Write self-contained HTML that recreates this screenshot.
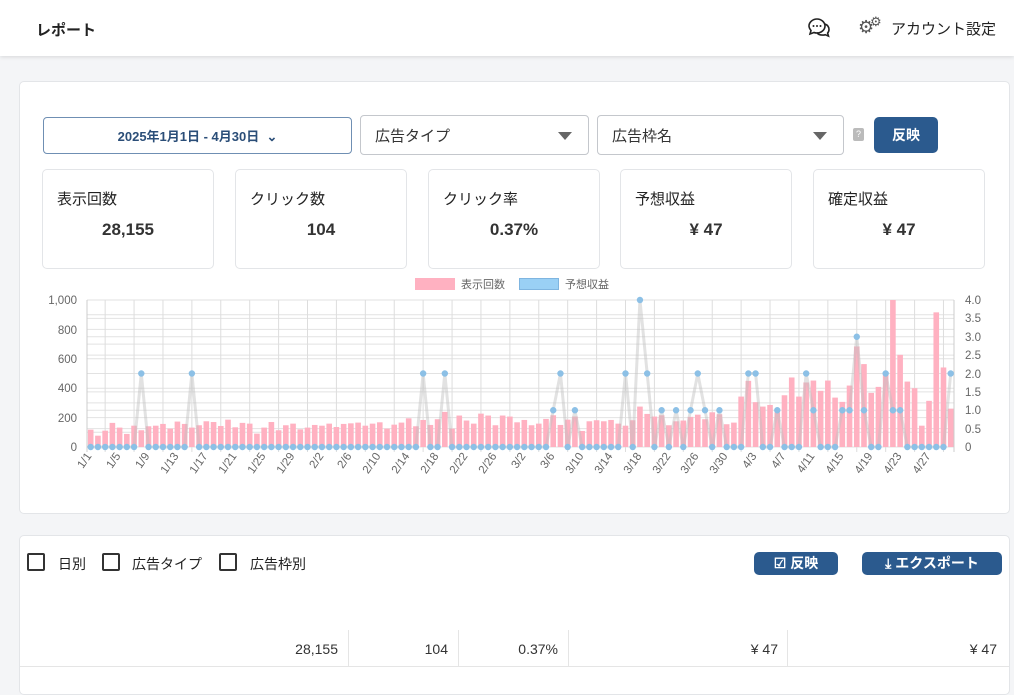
<!DOCTYPE html>
<html><head><meta charset="utf-8"><style>
*{box-sizing:border-box;margin:0;padding:0}
body{width:1014px;height:680px;overflow:hidden;background:#f4f5f7;font-family:"Liberation Sans","Noto Sans CJK JP",sans-serif;color:#222;position:relative}
.hdr{position:absolute;left:0;top:0;width:1014px;height:56px;background:#fff;box-shadow:0 1px 4px rgba(0,0,0,.12)}
.abs{position:absolute}
.card{position:absolute;background:#fff;border:1px solid #e3e5e8;border-radius:5px}
.kpi{position:absolute;top:169px;width:172px;height:100px;background:#fff;border:1px solid #e3e5e8;border-radius:5px}
.kpi .t{position:absolute;left:14px;top:18px;font-size:15px;color:#222}
.kpi .v{position:absolute;left:0;right:0;top:49px;text-align:center;font-size:17px;font-weight:bold;color:#333;line-height:22px}
.sel{position:absolute;top:115px;height:40px;border:1px solid #c4c7cc;border-radius:4px;font-size:15px;padding:9px 14px;color:#333}
.sel .ar{position:absolute;right:16px;top:16px;width:0;height:0;border-left:7px solid transparent;border-right:7px solid transparent;border-top:8px solid #666}
.btn{position:absolute;background:#2b5a8e;color:#fff;font-weight:bold;border-radius:5px;text-align:center}
.cb{position:absolute;top:553px;width:18px;height:18px;border:2px solid #333;border-radius:2px}
.cl{position:absolute;top:554px;font-size:14px;color:#222}
.td{position:absolute;top:641px;font-size:14px;color:#333;text-align:right}
</style></head><body>
<div class="hdr">
<div class="abs" style="left:36px;top:19px;font-size:15px;font-weight:bold">レポート</div>
<svg class="abs" style="left:806px;top:16px" width="26" height="24" viewBox="0 0 26 24"><path d="M3 10c0-4 4-7 8-7s8 3 8 7-4 7-8 7c-1 0-2 0-3-.5L4 18l1-3.5C3.8 13 3 11.6 3 10z" fill="none" stroke="#222" stroke-width="1.6"/><path d="M19 8c2.5 1 4 3 4 5.5 0 1.4-.5 2.6-1.4 3.6l.9 3-3.3-1.4c-.8.3-1.8.4-2.7.4-2.5 0-4.6-1-5.8-2.6" fill="none" stroke="#222" stroke-width="1.6"/><circle cx="7.5" cy="10" r="1" fill="#222"/><circle cx="11" cy="10" r="1" fill="#222"/><circle cx="14.5" cy="10" r="1" fill="#222"/></svg>
<div class="abs" style="left:858px;top:17px;font-size:18px;color:#555">⚙</div>
<div class="abs" style="left:870px;top:14px;font-size:13px;color:#555">⚙</div>
<div class="abs" style="left:891px;top:18px;font-size:15px">アカウント設定</div>
</div>

<div class="card" style="left:19px;top:81px;width:991px;height:433px"></div>
<div class="abs" style="left:43px;top:117px;width:309px;height:37px;border:1px solid #6f8fb3;border-radius:4px;text-align:center;font-size:13px;font-weight:bold;color:#2b4e78;padding-top:8px">2025年1月1日 - 4月30日 &nbsp;⌄</div>
<div class="sel" style="left:360px;width:229px">広告タイプ<div class="ar"></div></div>
<div class="sel" style="left:597px;width:247px">広告枠名<div class="ar"></div></div>
<div class="abs" style="left:853px;top:128px;width:11px;height:13px;background:#bbb;border-radius:2px;color:#fff;font-size:9px;text-align:center;line-height:13px">?</div>
<div class="btn" style="left:874px;top:117px;width:64px;height:36px;font-size:14px;line-height:36px">反映</div>

<div class="kpi" style="left:42px"><div class="t">表示回数</div><div class="v">28,155</div></div>
<div class="kpi" style="left:235px"><div class="t">クリック数</div><div class="v">104</div></div>
<div class="kpi" style="left:428px"><div class="t">クリック率</div><div class="v">0.37%</div></div>
<div class="kpi" style="left:620px"><div class="t">予想収益</div><div class="v">¥ 47</div></div>
<div class="kpi" style="left:813px"><div class="t">確定収益</div><div class="v">¥ 47</div></div>

<svg class="abs" style="left:0;top:270px" width="1014" height="230" viewBox="0 270 1014 230" font-family="Liberation Sans, Noto Sans CJK JP, sans-serif">
<rect x="415" y="278" width="40" height="12" fill="#ffb1c1"/><text x="461" y="288" font-size="11" fill="#666">表示回数</text>
<rect x="519.5" y="278.5" width="39" height="11" fill="#9ad0f5" stroke="#7fb5e0"/><text x="565" y="288" font-size="11" fill="#666">予想収益</text>
<g id="grid" stroke="#e2e2e2" stroke-width="1"></g>
<g font-size="11.5" fill="#666">
<text x="77" y="304" text-anchor="end">1,000</text><text x="77" y="334" text-anchor="end">800</text><text x="77" y="363" text-anchor="end">600</text><text x="77" y="392" text-anchor="end">400</text><text x="77" y="422" text-anchor="end">200</text><text x="77" y="451" text-anchor="end">0</text>
<text x="965" y="304">4.0</text><text x="965" y="322">3.5</text><text x="965" y="341">3.0</text><text x="965" y="359">2.5</text><text x="965" y="378">2.0</text><text x="965" y="396">1.5</text><text x="965" y="414">1.0</text><text x="965" y="433">0.5</text><text x="965" y="451">0</text>
</g>
<g id="bars" fill="#ffb1c1"></g>
<polyline id="ln" fill="none" stroke="rgba(190,190,190,0.45)" stroke-width="3"/>
<g id="pts" fill="#8cc0e6"></g>
<g font-size="11.5" fill="#666" text-anchor="end">
<text transform="translate(92,456) rotate(-55)">1/1</text><text transform="translate(121,456) rotate(-55)">1/5</text><text transform="translate(150,456) rotate(-55)">1/9</text><text transform="translate(179,456) rotate(-55)">1/13</text><text transform="translate(208,456) rotate(-55)">1/17</text><text transform="translate(237,456) rotate(-55)">1/21</text><text transform="translate(266,456) rotate(-55)">1/25</text><text transform="translate(295,456) rotate(-55)">1/29</text><text transform="translate(324,456) rotate(-55)">2/2</text><text transform="translate(352,456) rotate(-55)">2/6</text><text transform="translate(381,456) rotate(-55)">2/10</text><text transform="translate(410,456) rotate(-55)">2/14</text><text transform="translate(439,456) rotate(-55)">2/18</text><text transform="translate(468,456) rotate(-55)">2/22</text><text transform="translate(497,456) rotate(-55)">2/26</text><text transform="translate(526,456) rotate(-55)">3/2</text><text transform="translate(555,456) rotate(-55)">3/6</text><text transform="translate(584,456) rotate(-55)">3/10</text><text transform="translate(613,456) rotate(-55)">3/14</text><text transform="translate(642,456) rotate(-55)">3/18</text><text transform="translate(671,456) rotate(-55)">3/22</text><text transform="translate(699,456) rotate(-55)">3/26</text><text transform="translate(728,456) rotate(-55)">3/30</text><text transform="translate(757,456) rotate(-55)">4/3</text><text transform="translate(786,456) rotate(-55)">4/7</text><text transform="translate(815,456) rotate(-55)">4/11</text><text transform="translate(844,456) rotate(-55)">4/15</text><text transform="translate(873,456) rotate(-55)">4/19</text><text transform="translate(902,456) rotate(-55)">4/23</text><text transform="translate(931,456) rotate(-55)">4/27</text>
</g>
</svg>

<div class="card" style="left:19px;top:535px;width:991px;height:160px"></div>
<div class="cb" style="left:27px"></div><div class="cl" style="left:58px">日別</div>
<div class="cb" style="left:102px"></div><div class="cl" style="left:132px">広告タイプ</div>
<div class="cb" style="left:219px"></div><div class="cl" style="left:250px">広告枠別</div>
<div class="btn" style="left:754px;top:552px;width:84px;height:23px;font-size:14px;line-height:23px">☑ 反映</div>
<div class="btn" style="left:862px;top:552px;width:140px;height:23px;font-size:14px;line-height:23px">⤓ エクスポート</div>
<div class="abs" style="left:20px;top:666px;width:989px;border-top:1px solid #e5e5e5"></div>
<div class="abs" style="left:348px;top:630px;height:36px;border-left:1px solid #e5e5e5"></div>
<div class="abs" style="left:458px;top:630px;height:36px;border-left:1px solid #e5e5e5"></div>
<div class="abs" style="left:568px;top:630px;height:36px;border-left:1px solid #e5e5e5"></div>
<div class="abs" style="left:787px;top:630px;height:36px;border-left:1px solid #e5e5e5"></div>
<div class="td" style="right:676px">28,155</div>
<div class="td" style="right:566px">104</div>
<div class="td" style="right:456px">0.37%</div>
<div class="td" style="right:236px">¥ 47</div>
<div class="td" style="right:17px">¥ 47</div>

<script>
var B=[118,77,111,164,132,89,145,114,141,145,157,125,173,157,132,148,175,170,143,186,134,164,159,91,132,170,114,148,159,120,132,150,145,159,136,157,161,166,145,159,168,125,152,166,195,141,184,150,189,239,125,214,180,159,227,214,148,214,207,168,184,148,159,191,216,150,186,207,109,175,182,175,184,159,145,182,275,225,207,216,148,175,180,205,220,189,236,223,155,166,343,450,305,275,286,236,352,473,343,439,452,382,452,336,307,418,684,564,368,409,505,1000,627,445,400,145,314,916,541,261];
var R={7:2,14:2,46:2,49:2,64:1,65:2,67:1,74:2,76:4,77:2,79:1,81:1,83:1,84:2,85:1,87:1,91:2,92:2,95:1,99:2,100:1,104:1,105:1,106:3,107:1,110:2,111:1,112:1,119:2};
var ns="http://www.w3.org/2000/svg";
function el(t,a,p){var e=document.createElementNS(ns,t);for(var k in a)e.setAttribute(k,a[k]);document.getElementById(p).appendChild(e);}
var L=87,Rt=954,T=300,Bo=447,H=147;
for(var v=0;v<=1000;v+=100)el('line',{x1:L,x2:Rt,y1:Bo-v/1000*H,y2:Bo-v/1000*H},'grid');
for(var v=0;v<=8;v++)el('line',{x1:L,x2:Rt,y1:Bo-v/8*H,y2:Bo-v/8*H},'grid');
el('line',{x1:L,x2:L,y1:T,y2:Bo+5,stroke:'#ccc'},'grid');el('line',{x1:Rt,x2:Rt,y1:T,y2:Bo+5,stroke:'#ccc'},'grid');
for(var i=2;i<120;i+=4){var x=90.7+i*7.227;el('line',{x1:x,x2:x,y1:T,y2:Bo+5,stroke:'#ddd'},'grid');}
var pts=[];
for(var i=0;i<120;i++){var x=90.7+i*7.227,h=B[i]/1000*H;el('rect',{x:x-2.8,y:Bo-h,width:5.6,height:h},'bars');
var r=R[i]||0,y=Bo-r/4*H;pts.push(x+','+y);el('circle',{cx:x,cy:y,r:3.2},'pts');}
document.getElementById('ln').setAttribute('points',pts.join(' '));
</script>
</body></html>
